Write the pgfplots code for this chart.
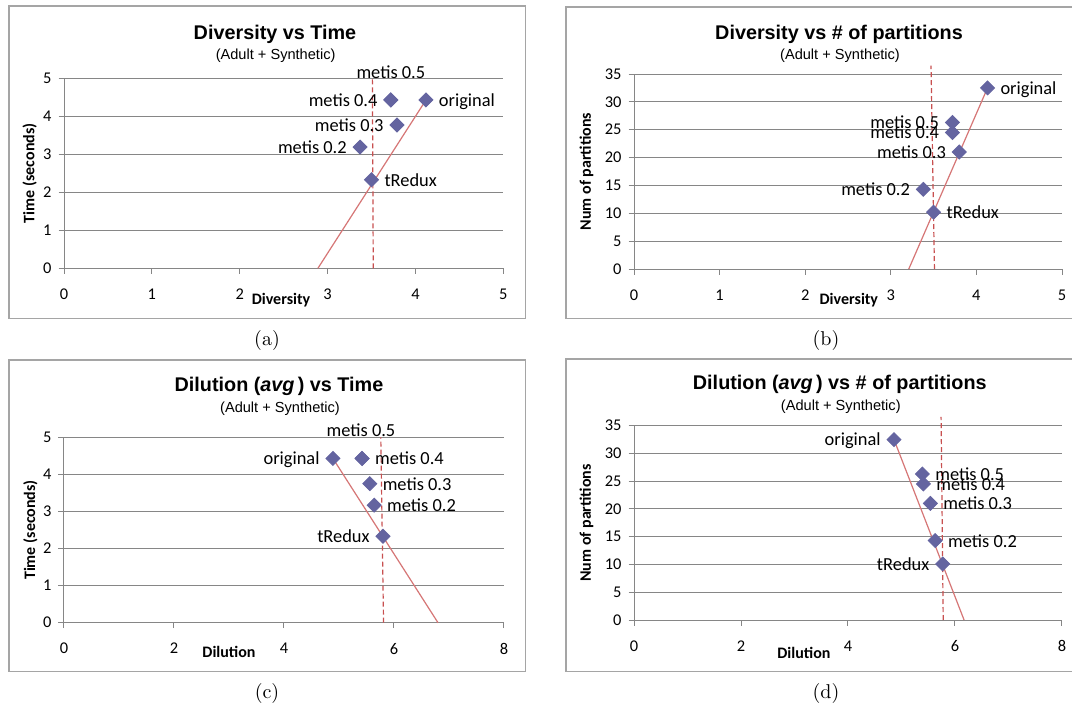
\documentclass[border=0pt]{standalone}
\usepackage{pgfplots}
\pgfplotsset{compat=1.18}
\usepackage{fontspec}
\newfontfamily\carlito{Carlito}
\newfontfamily\arial{Liberation Sans}
\definecolor{gridc}{RGB}{134,134,134}
\definecolor{boxc}{RGB}{165,165,165}
\definecolor{markc}{RGB}{100,100,160}
\definecolor{trendc}{RGB}{214,118,118}
\definecolor{dashc}{RGB}{200,80,80}
\pgfdeclareplotmark{ediamond}{%
  \pgfpathmoveto{\pgfqpoint{\pgfplotmarksize}{0pt}}%
  \pgfpathlineto{\pgfqpoint{0pt}{\pgfplotmarksize}}%
  \pgfpathlineto{\pgfqpoint{-\pgfplotmarksize}{0pt}}%
  \pgfpathlineto{\pgfqpoint{0pt}{-\pgfplotmarksize}}%
  \pgfpathclose\pgfusepathqfillstroke}
\tikzset{
  lbl/.style={inner sep=0pt, font=\carlito\fontsize{9.2}{10}\selectfont, text height=0.64em, text depth=0pt},
  lblL/.style={lbl, anchor=east, xshift=-6.5pt},
  lblR/.style={lbl, anchor=west, xshift=6.3pt},
  lblT/.style={lbl, anchor=center, yshift=14pt},
  axlab/.style={inner sep=0pt, font=\carlito\bfseries\fontsize{8}{9}\selectfont},
  ttl/.style={inner sep=0pt, anchor=base, font=\arial\bfseries\fontsize{9.9}{11}\selectfont},
  sttl/.style={inner sep=0pt, anchor=base, font=\arial\fontsize{7.3}{8}\selectfont},
  capt/.style={inner sep=0pt, anchor=center, font=\fontsize{10}{12}\selectfont},
}
\pgfplotsset{
  panel/.style={
    scale only axis, clip=false, anchor=south west,
    axis x line*=bottom, axis y line*=left,
    axis line style={-, draw=gridc, line width=0.5pt},
    ymajorgrids, grid style={draw=gridc, line width=0.5pt},
    major tick style={draw=gridc, line width=0.5pt},
    tick align=outside, major tick length=2.75pt,
    ticklabel style={font=\carlito\fontsize{8.2}{9}\selectfont, text=black},
    xticklabel style={yshift=-4pt},
    /pgf/number format/assume math mode=true,
  },
  pts/.style={only marks, mark=ediamond, mark size=3.5pt, mark options={fill=markc, draw=markc, line width=0.4pt}},
  trend/.style={draw=trendc, line width=0.6pt, no marks},
  vdash/.style={draw=dashc, line width=0.6pt, dash pattern=on 2.5pt off 1.5pt, no marks},
}
\begin{document}
\begin{tikzpicture}
\useasboundingbox (0,0) rectangle (536pt,354.5pt);
\fill[white] (0,0) rectangle (536pt,354.5pt);
% boxes
\draw[boxc, line width=0.6pt] (4.5pt,195.3pt) rectangle (262.85pt,351.5pt);
\draw[boxc, line width=0.6pt] (283pt,195.3pt) rectangle (538pt,351pt);
\draw[boxc, line width=0.6pt] (4.5pt,18.6pt) rectangle (262.85pt,174.5pt);
\draw[boxc, line width=0.6pt] (283pt,18.6pt) rectangle (538pt,175pt);
% titles
\node[ttl] at (137.5pt,334.75pt) {Diversity vs Time};
\node[sttl] at (137.8pt,324.65pt) {(Adult + Synthetic)};
\node[ttl] at (419.5pt,334.75pt) {Diversity vs \# of partitions};
\node[sttl] at (420pt,324.65pt) {(Adult + Synthetic)};
\node[ttl] at (139.5pt,158.75pt) {Dilution (\textit{avg}\,) vs Time};
\node[sttl] at (140pt,148.25pt) {(Adult + Synthetic)};
\node[ttl] at (419.9pt,159.75pt) {Dilution (\textit{avg}\,) vs \# of partitions};
\node[sttl] at (420.4pt,149.4pt) {(Adult + Synthetic)};
% captions
\node[capt] at (133.5pt,184.35pt) {(a)};
\node[capt] at (413pt,184.35pt) {(b)};
\node[capt] at (133.5pt,8pt) {(c)};
\node[capt] at (413pt,7.85pt) {(d)};

% (a)
\begin{axis}[panel, at={(32pt,220.35pt)}, width=219.65pt, height=95pt,
  xmin=0, xmax=5, ymin=0, ymax=5, xtick={0,1,2,3,4,5}, ytick={0,1,2,3,4,5}]
\addplot[vdash] coordinates {(3.52,0) (3.51,5.03)};
\addplot[pts] coordinates {(4.12,4.43) (3.72,4.43) (3.72,4.43) (3.79,3.77) (3.37,3.19) (3.50,2.33)};
\addplot[trend] coordinates {(2.89,0) (4.12,4.43)};
\node[lblR] at (axis cs:4.12,4.43) {original};
\node[lblT] at (axis cs:3.72,4.43) {metis 0.5};
\node[lblL] at (axis cs:3.72,4.43) {metis 0.4};
\node[lblL] at (axis cs:3.79,3.77) {metis 0.3};
\node[lblL] at (axis cs:3.37,3.19) {metis 0.2};
\node[lblR] at (axis cs:3.50,2.33) {tRedux};
\node[axlab] at ([yshift=-15.85pt]rel axis cs:0.494,0) {Diversity};
\node[axlab, rotate=90] at ([xshift=-17.15pt]rel axis cs:0,0.5) {Time (seconds)};
\end{axis}

% (b)
\begin{axis}[panel, at={(317pt,220pt)}, width=214pt, height=97.5pt,
  xmin=0, xmax=5, ymin=0, ymax=35, xtick={0,1,2,3,4,5}, ytick={0,5,10,15,20,25,30,35}]
\addplot[vdash] coordinates {(3.51,0) (3.47,36.5)};
\addplot[pts] coordinates {(4.13,32.5) (3.72,26.3) (3.72,24.5) (3.80,21.0) (3.38,14.3) (3.50,10.2)};
\addplot[trend] coordinates {(3.21,0) (4.13,32.5)};
\node[lblR] at (axis cs:4.13,32.5) {original};
\node[lblL] at (axis cs:3.72,26.3) {metis 0.5};
\node[lblL] at (axis cs:3.72,24.5) {metis 0.4};
\node[lblL] at (axis cs:3.80,21.0) {metis 0.3};
\node[lblL] at (axis cs:3.38,14.3) {metis 0.2};
\node[lblR] at (axis cs:3.50,10.2) {tRedux};
\node[axlab] at ([yshift=-15.5pt]rel axis cs:0.502,0) {Diversity};
\node[axlab, rotate=90] at ([xshift=-23.8pt]rel axis cs:0,0.5) {Num of partitions};
\end{axis}

% (c)
\begin{axis}[panel, at={(32pt,43.15pt)}, width=220pt, height=92.7pt,
  xmin=0, xmax=8, ymin=0, ymax=5, xtick={0,2,4,6,8}, ytick={0,1,2,3,4,5}]
\addplot[vdash] coordinates {(5.81,0) (5.76,5.0)};
\addplot[pts] coordinates {(4.89,4.43) (5.42,4.43) (5.42,4.43) (5.56,3.75) (5.64,3.17) (5.80,2.33)};
\addplot[trend] coordinates {(4.89,4.43) (6.80,0)};
\node[lblL] at (axis cs:4.89,4.43) {original};
\node[lblT] at (axis cs:5.40,4.43) {metis 0.5};
\node[lblR] at (axis cs:5.42,4.43) {metis 0.4};
\node[lblR] at (axis cs:5.56,3.75) {metis 0.3};
\node[lblR] at (axis cs:5.64,3.17) {metis 0.2};
\node[lblL] at (axis cs:5.80,2.33) {tRedux};
\node[axlab] at ([yshift=-14.5pt]rel axis cs:0.375,0) {Dilution};
\node[axlab, rotate=90] at ([xshift=-16.8pt]rel axis cs:0,0.5) {Time (seconds)};
\end{axis}

% (d)
\begin{axis}[panel, at={(317pt,44.5pt)}, width=214pt, height=97.15pt,
  xmin=0, xmax=8, ymin=0, ymax=35, xtick={0,2,4,6,8}, ytick={0,5,10,15,20,25,30,35}]
\addplot[vdash] coordinates {(5.78,0) (5.74,36.6)};
\addplot[pts] coordinates {(4.86,32.5) (5.39,26.3) (5.41,24.5) (5.54,21.0) (5.63,14.3) (5.77,10.1)};
\addplot[trend] coordinates {(4.86,32.5) (6.17,0)};
\node[lblL] at (axis cs:4.86,32.5) {original};
\node[lblR] at (axis cs:5.39,26.3) {metis 0.5};
\node[lblR] at (axis cs:5.41,24.5) {metis 0.4};
\node[lblR] at (axis cs:5.54,21.0) {metis 0.3};
\node[lblR] at (axis cs:5.63,14.3) {metis 0.2};
\node[lblL] at (axis cs:5.77,10.1) {tRedux};
\node[axlab] at ([yshift=-16.3pt]rel axis cs:0.397,0) {Dilution};
\node[axlab, rotate=90] at ([xshift=-23.8pt]rel axis cs:0,0.5) {Num of partitions};
\end{axis}
\end{tikzpicture}
\end{document}
